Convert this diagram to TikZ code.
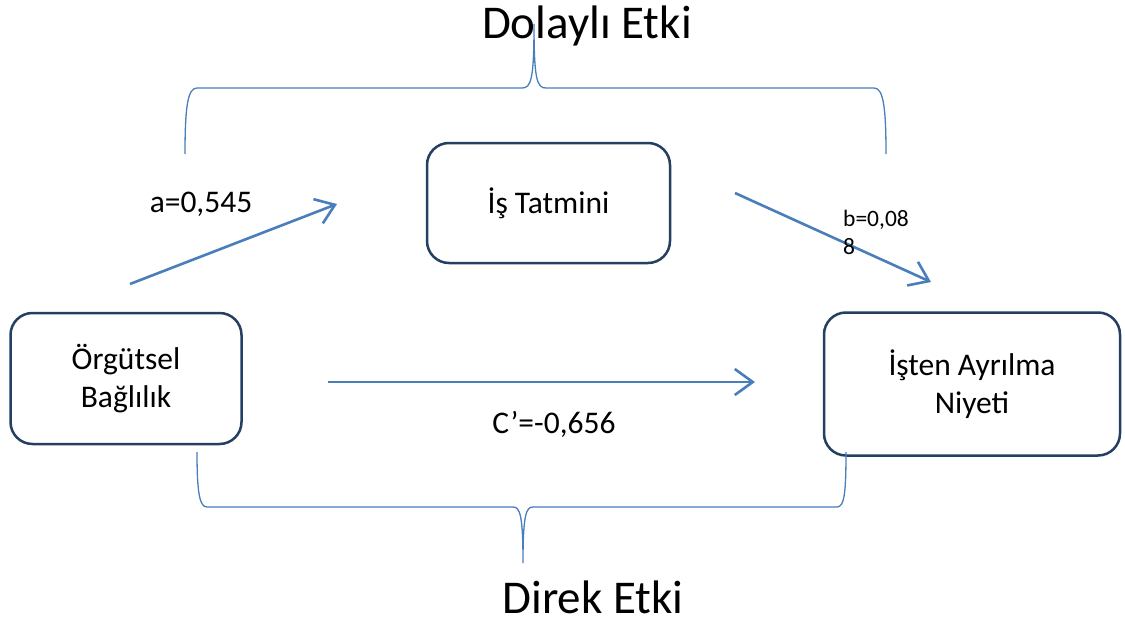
\documentclass[tikz,border=0pt]{standalone}
\usepackage{fontspec}
\setmainfont{Carlito}
\usetikzlibrary{arrows.meta}
\definecolor{arrowblue}{HTML}{4A7EBB}
\definecolor{boxnavy}{HTML}{243F60}
\begin{document}
\begin{tikzpicture}[x=1pt,y=-1pt,
 box/.style={draw=boxnavy, line width=2.5pt, rounded corners=22pt, fill=white, align=center, inner sep=0pt, font=\fontsize{31.5}{38.5}\selectfont},
 arr/.style={draw=arrowblue, line width=2.6pt, -{Straight Barb[length=18pt,width=26pt,line width=2.6pt]}},
 brace/.style={draw=arrowblue, line width=1.3pt},
 lbl/.style={inner sep=0pt, font=\fontsize{31.5}{36}\selectfont},
 small/.style={inner sep=0pt, align=left, font=\fontsize{23.5}{28}\selectfont},
 ttl/.style={inner sep=0pt, text depth=0pt, font=\fontsize{47}{56}\selectfont}]
\useasboundingbox (0,0) rectangle (1125,626);

% boxes
\node[box, minimum width=243pt, minimum height=120pt] (is) at (548.5,203) {İş Tatmini};
\node[box, minimum width=231pt, minimum height=131pt] (org) at (126,378.5) {Örgütsel\\Bağlılık};
\node[box, minimum width=296pt, minimum height=143pt] (ayr) at (972,384) {İşten Ayrılma\\Niyeti};

% arrow end points
\coordinate (a1) at (130,284);
\coordinate (a2) at (337,204);
\coordinate (b1) at (735,193);
\coordinate (b2) at (931,282);
\coordinate (c1) at (328,382);
\coordinate (c2) at (755,382);
\draw[arr] (a1) -- (a2);
\draw[arr] (b1) -- (b2);
\draw[arr] (c1) -- (c2);

% labels
\node[lbl, anchor=base] (la) at (201,212) {a=0,545};
\node[small, anchor=base west] (lb) at (843,254) {b=0,08\\8};
\node[lbl, anchor=base] (lc) at (554,433) {C’=-0,656};
\node[ttl, anchor=base] (td) at (587,39) {Dolaylı Etki};
\node[ttl, anchor=base] (tk) at (593,613) {Direk Etki};

% top brace
\coordinate (tl) at (185,154);
\coordinate (tr) at (886,154);
\coordinate (tt) at (534,24);
\draw[brace] (tl) .. controls (185,105) and (188,88) .. (197,88)
  -- (522,88) .. controls (531,88) and (534,80) .. (tt)
  .. controls (534,80) and (537,88) .. (546,88)
  -- (874,88) .. controls (883,88) and (886,105) .. (tr);

% bottom brace
\coordinate (bl) at (197,452);
\coordinate (br) at (846,452);
\coordinate (bt) at (523,563);
\draw[brace] (bl) .. controls (197,495) and (200,507) .. (207,507)
  -- (513,507) .. controls (520,507) and (523,515) .. (bt)
  .. controls (523,515) and (526,507) .. (533,507)
  -- (837,507) .. controls (844,507) and (846,495) .. (br);
\end{tikzpicture}
\end{document}
